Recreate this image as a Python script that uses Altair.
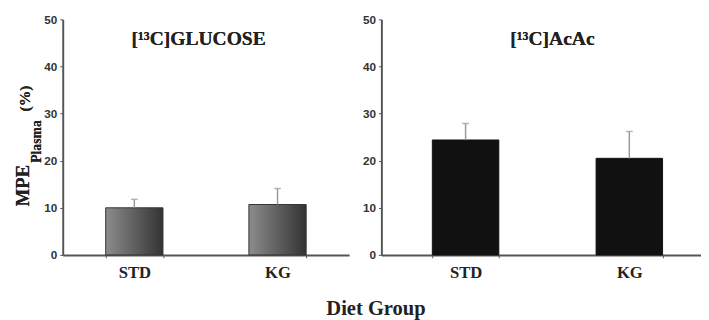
import altair as alt
import pandas as pd

groups = ["STD", "KG"]
glucose_mean = [10.0, 10.7]
glucose_err = [1.8, 3.4]
acac_mean = [24.4, 20.5]
acac_err = [3.5, 5.7]
y_ticks = [0, 10, 20, 30, 40, 50]

SERIF = "Liberation Serif"
SANS = "Liberation Sans"


def panel(mean, err, title, width, fill, stroke, title_x, pad_in, pad_out, align, show_ytitle):
    df = pd.DataFrame({"group": groups, "mean": mean,
                       "top": [m + e for m, e in zip(mean, err)]})
    base = alt.Chart(df)
    x = alt.X("group:N", sort=groups,
              scale=alt.Scale(paddingInner=pad_in, paddingOuter=pad_out, align=align),
              axis=alt.Axis(title=None, labelFont=SERIF, labelFontWeight="bold",
                            labelFontSize=17, labelAngle=0, labelColor="#222",
                            tickBand="extent", ticks=True, tickSize=3,
                            tickColor="#555", domainColor="#555", domainWidth=2,
                            labelPadding=7))
    y = alt.Y("mean:Q", scale=alt.Scale(domain=[0, 50]),
              axis=alt.Axis(values=y_ticks, grid=False, title=None,
                            labelFont=SANS, labelFontWeight="bold", labelFontSize=12,
                            labelColor="#333", tickSize=3, tickColor="#555",
                            domainColor="#555", domainWidth=2, labelPadding=3))
    bars = base.mark_bar(fill=fill, stroke=stroke, strokeWidth=1).encode(x=x, y=y)
    rule = base.mark_rule(color="#999", strokeWidth=1.5).encode(
        x=alt.X("group:N", sort=groups), y="mean:Q", y2="top:Q")
    cap = base.mark_tick(color="#999", thickness=1.5, size=7, orient="horizontal").encode(
        x=alt.X("group:N", sort=groups), y="top:Q")
    ttl = base.mark_text(font=SERIF, fontWeight="bold", fontSize=20, color="#222").encode(
        x=alt.value(title_x), y=alt.value(20), text=alt.value(title))
    layers = [bars, rule, cap, ttl]
    if show_ytitle:
        for txt, xx, yy, fs in [("MPE", -41, 170, 19), ("Plasma", -26, 125, 14), ("(%)", -39, 81, 16)]:
            layers.append(base.mark_text(font=SERIF, fontWeight="bold", fontSize=fs,
                                         angle=270, color="#222", align="center",
                                         baseline="middle").encode(
                x=alt.value(xx), y=alt.value(yy), text=alt.value(txt)))
    return alt.layer(*layers).properties(width=width, height=241)


grad = alt.LinearGradient(gradient="linear", x1=0, x2=1, y1=0, y2=0,
                          stops=[alt.GradientStop(offset=0, color="#8c8c8c"),
                                 alt.GradientStop(offset=1, color="#333333")])

left = panel(glucose_mean, glucose_err, "[¹³C]GLUCOSE", 293, grad, "#333", 139,
             0.6, 0.3, 0.5, True)
right = panel(acac_mean, acac_err, "[¹³C]AcAc", 327, "#111", "#111", 175,
              0.594, 0.273, 0.57, False)

chart = alt.hconcat(left, right, spacing=13).properties(
    title=alt.TitleParams(text="Diet Group", orient="bottom", anchor="middle",
                          font=SERIF, fontSize=21, fontWeight="bold", color="#222",
                          offset=18, dx=19),
    padding={"left": 6, "top": 2, "right": 0, "bottom": 0},
).configure_view(stroke=None)

chart.save("out.html", embed_options={"renderer": "svg", "actions": False})
